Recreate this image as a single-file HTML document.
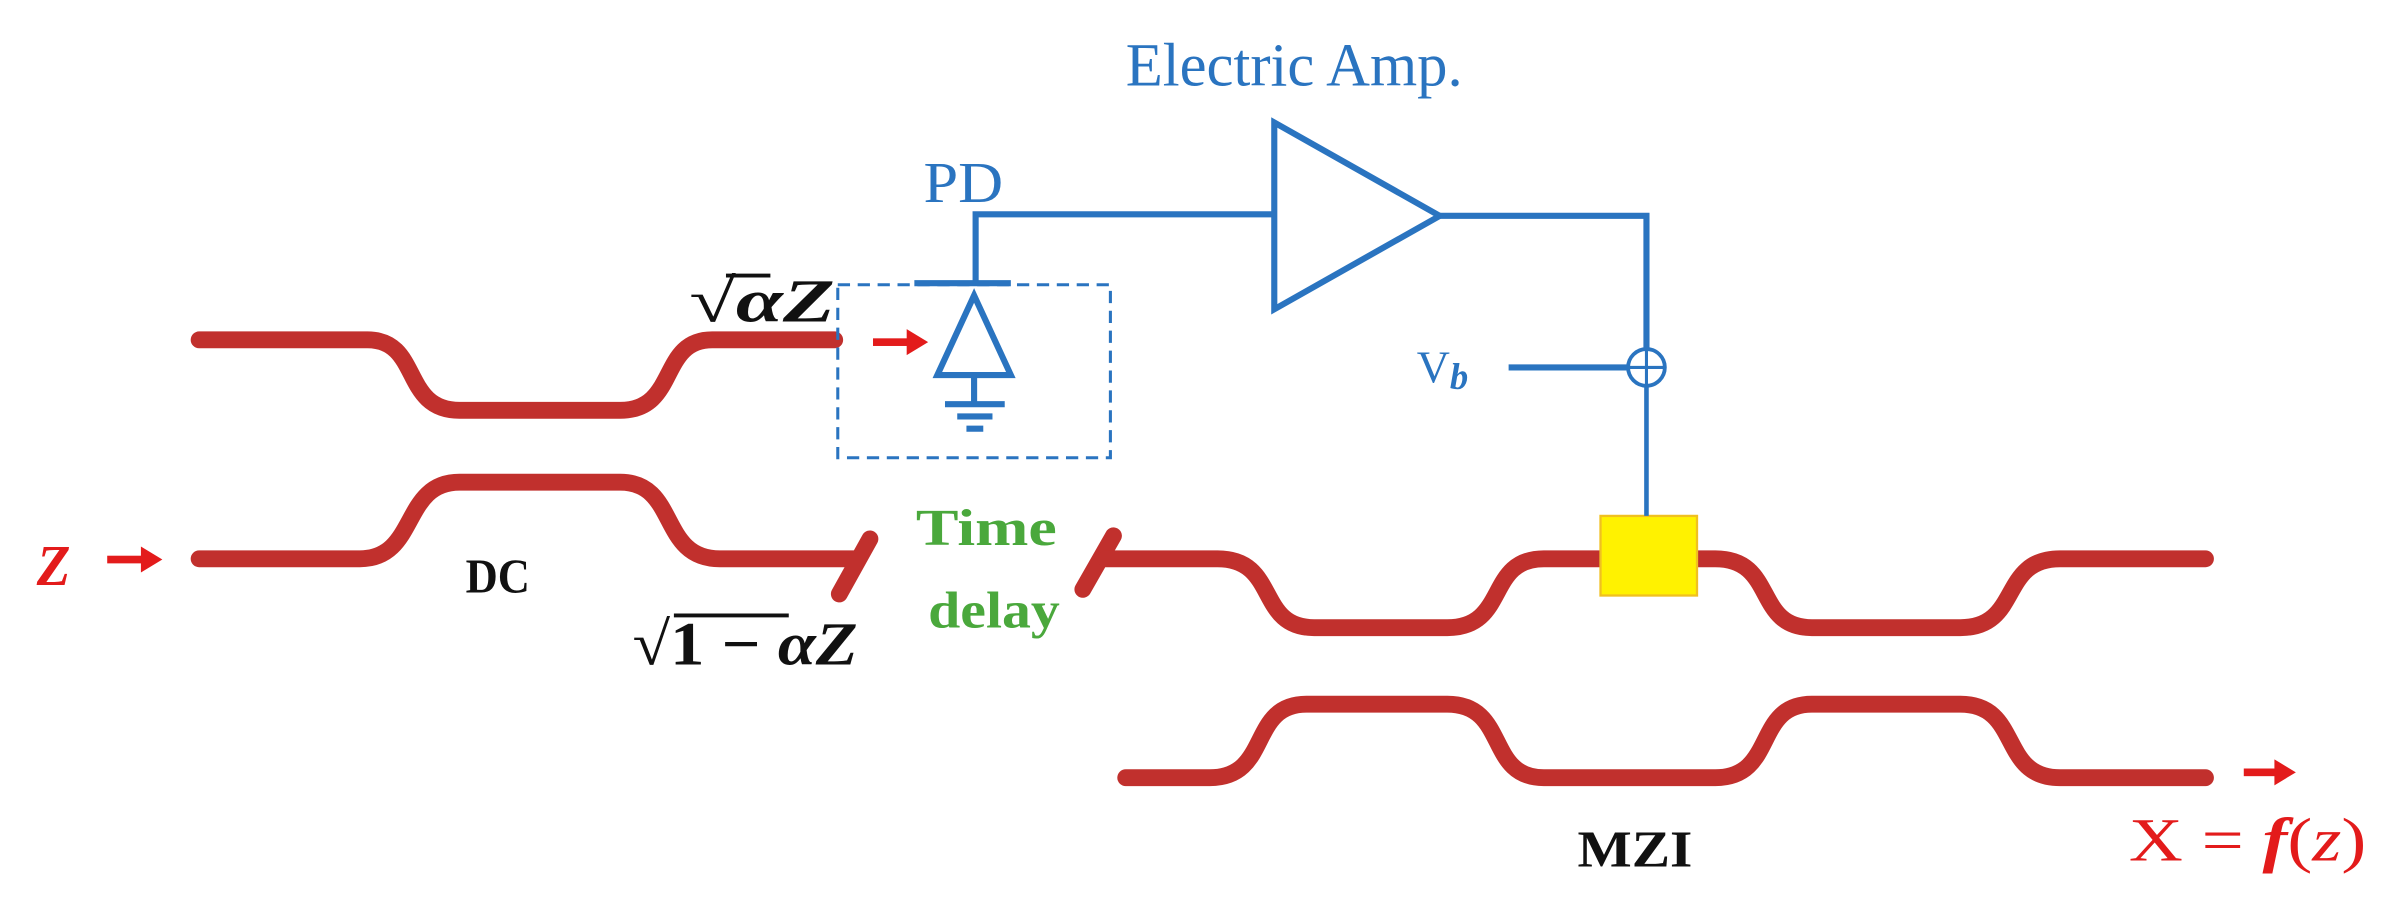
<!DOCTYPE html>
<html><head><meta charset="utf-8"><style>html,body{margin:0;padding:0;background:#fff}svg{display:block}</style></head>
<body>
<svg width="2400" height="917" viewBox="0 0 1567 599" preserveAspectRatio="none" xmlns="http://www.w3.org/2000/svg">
<g fill="none" stroke="#c1302d" stroke-width="11" stroke-linecap="round">
<path d="M130,222 H240 C275,222 262,268 300,268 H405 C443,268 430,222 465,222 H545"/>
<path d="M130,365 H235 C273,365 262,315 300,315 H405 C443,315 430,365 470,365 H558"/>
<path d="M548,388 L568,352"/>
<path d="M707,385 L727,350"/>
<path d="M722,365 H795 C835,365 820,410 858,410 H945 C985,410 970,365 1008,365 H1120 C1160,365 1145,410 1183,410 H1280 C1320,410 1305,365 1345,365 H1440"/>
<path d="M735,508 H790 C830,508 815,460 853,460 H945 C985,460 970,508 1008,508 H1120 C1160,508 1145,460 1183,460 H1280 C1320,460 1305,508 1345,508 H1440"/>
</g>
<rect x="1045" y="337" width="63" height="52" fill="#fff200" stroke="#f0c020" stroke-width="1.5"/>
<g fill="none" stroke="#2a74c0" stroke-width="4">
<rect x="547" y="186" width="178" height="113" stroke-width="2" stroke-dasharray="8,5"/>
<path d="M637,185 V140 H832"/>
<path d="M832,80 V202 L940,141 Z"/>
<path d="M940,141 H1075 V228"/>
<circle cx="1075" cy="240" r="12" stroke-width="2.5"/>
<path d="M1063,240 H1087 M1075,228 V252" stroke-width="2"/>
<path d="M985,240 H1063" />
<path d="M1075,252 V337" stroke-width="3"/>
<path d="M597,185 H660"/>
<path d="M636,193 L612,245 H660 Z"/>
<path d="M636,245 V263 M617,264 H656 M625,272 H648 M631,280 H642"/>
</g>
<g fill="#e31b1b" stroke="none">
<rect x="70" y="363" width="24" height="5"/><path d="M92,357 L106,365.5 L92,374 Z"/>
<rect x="570" y="221" width="24" height="5"/><path d="M592,215 L606,223.5 L592,232 Z"/>
<rect x="1465" y="502" width="22" height="5"/><path d="M1485,496 L1499,504.5 L1485,513 Z"/>
</g>
<g font-family="Liberation Serif, serif">
<text x="24" y="382" font-size="38" font-style="italic" font-weight="bold" fill="#e31b1b" textLength="22" lengthAdjust="spacingAndGlyphs">Z</text>
<text x="304" y="387" font-size="32" font-weight="bold" fill="#111" textLength="42" lengthAdjust="spacingAndGlyphs">DC</text>
<text x="1030" y="566" font-size="34" font-weight="bold" fill="#111" textLength="75" lengthAdjust="spacingAndGlyphs">MZI</text>
<text x="1390" y="562" font-size="40" fill="#e31b1b" textLength="155" lengthAdjust="spacingAndGlyphs">X = <tspan font-style="italic" font-weight="bold">f</tspan>(<tspan font-style="italic">z</tspan>)</text>
<text x="598" y="356" font-size="34" font-weight="bold" fill="#4aa83c" textLength="92" lengthAdjust="spacingAndGlyphs">Time</text>
<text x="606" y="410" font-size="34" font-weight="bold" fill="#4aa83c" textLength="86" lengthAdjust="spacingAndGlyphs">delay</text>
<text x="603" y="132" font-size="38" fill="#2a74c0" textLength="52" lengthAdjust="spacingAndGlyphs">PD</text>
<text x="735" y="56" font-size="40" fill="#2a74c0" textLength="220" lengthAdjust="spacingAndGlyphs">Electric Amp.</text>
<text x="925" y="250" font-size="30" fill="#2a74c0">V<tspan font-style="italic" font-weight="bold" font-size="24" dy="4">b</tspan></text>
<text x="450" y="210" font-size="40" font-weight="bold" fill="#111" textLength="95" lengthAdjust="spacingAndGlyphs">√<tspan font-style="italic">αZ</tspan></text>
<text x="413" y="434" font-size="40" font-weight="bold" fill="#111" textLength="147" lengthAdjust="spacingAndGlyphs">√1 − <tspan font-style="italic">αZ</tspan></text>
</g>
<path d="M474,180 H503 M440,402 H515" stroke="#111" stroke-width="2.5"/>
</svg>
</body></html>
